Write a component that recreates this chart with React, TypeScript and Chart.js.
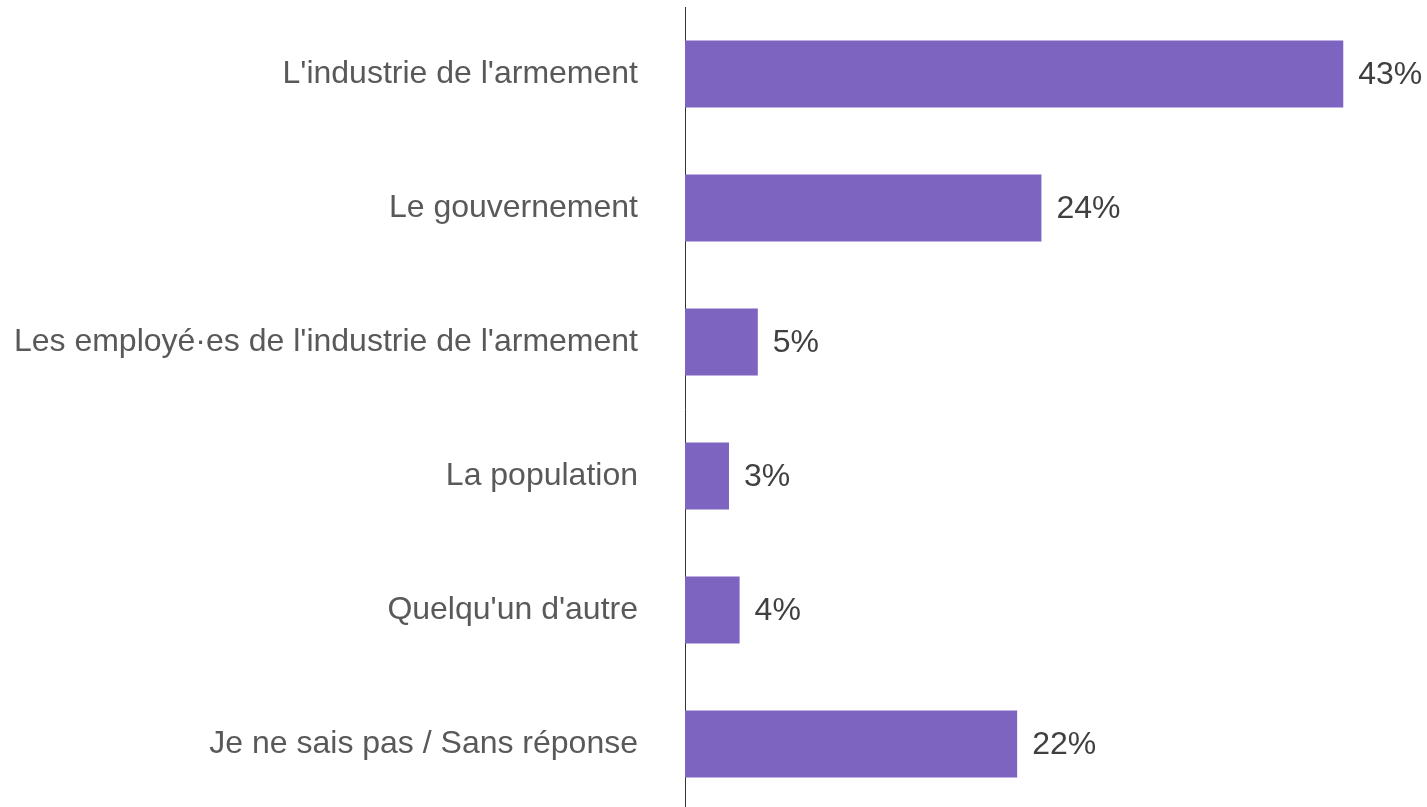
import React, { useEffect, useRef } from "react";
import { Chart, registerables } from "chart.js";

Chart.register(...registerables);

const categories = [
  "L'industrie de l'armement",
  "Le gouvernement",
  "Les employé·es de l'industrie de l'armement",
  "La population",
  "Quelqu'un d'autre",
  "Je ne sais pas / Sans réponse",
];
const values = [43.4, 23.5, 4.8, 2.9, 3.6, 21.9];
const xMax = 47.8;

const BAR_COLOR = "#7D64C0";
const FONT = "'Liberation Sans', Arial, sans-serif";

const valueLabels = {
  id: "valueLabels",
  afterDatasetsDraw(chart: any) {
    const ctx = chart.ctx;
    const meta = chart.getDatasetMeta(0);
    ctx.save();
    ctx.font = `32px ${FONT}`;
    ctx.fillStyle = "#404040";
    ctx.textAlign = "left";
    ctx.textBaseline = "middle";
    meta.data.forEach((bar: any, i: number) => {
      ctx.fillText(`${Math.round(values[i])}%`, bar.x + 15, bar.y + 1);
    });
    ctx.restore();
  },
};

export default function App() {
  const ref = useRef<HTMLCanvasElement | null>(null);
  useEffect(() => {
    if (!ref.current) return;
    const chart = new Chart(ref.current, {
      type: "bar",
      data: {
        labels: categories,
        datasets: [
          {
            data: values,
            backgroundColor: BAR_COLOR,
            borderWidth: 0,
            categoryPercentage: 1,
            barPercentage: 0.5,
          },
        ],
      },
      options: {
        indexAxis: "y",
        animation: false,
        responsive: false,
        maintainAspectRatio: false,
        layout: { padding: { top: 7, right: 17, bottom: 0, left: 0 } },
        plugins: {
          legend: { display: false },
          tooltip: { enabled: false },
        },
        scales: {
          x: {
            display: false,
            min: 0,
            max: xMax,
          },
          y: {
            afterFit(scale: any) {
              scale.width = 685;
              scale.paddingTop = 0;
              scale.paddingBottom = 0;
            },
            grid: { display: false, drawTicks: false },
            border: { display: true, color: "#333333", width: 1 },
            ticks: {
              color: "#595959",
              padding: 47,
              font: { family: FONT, size: 32 },
            },
          },
        },
      },
      plugins: [valueLabels],
    });
    return () => chart.destroy();
  }, []);
  return (
    <div style={{ position: "fixed", left: 0, top: 0, width: 1427, height: 811 }}>
      <canvas ref={ref} width={1427} height={811} style={{ display: "block" }} />
    </div>
  );
}
